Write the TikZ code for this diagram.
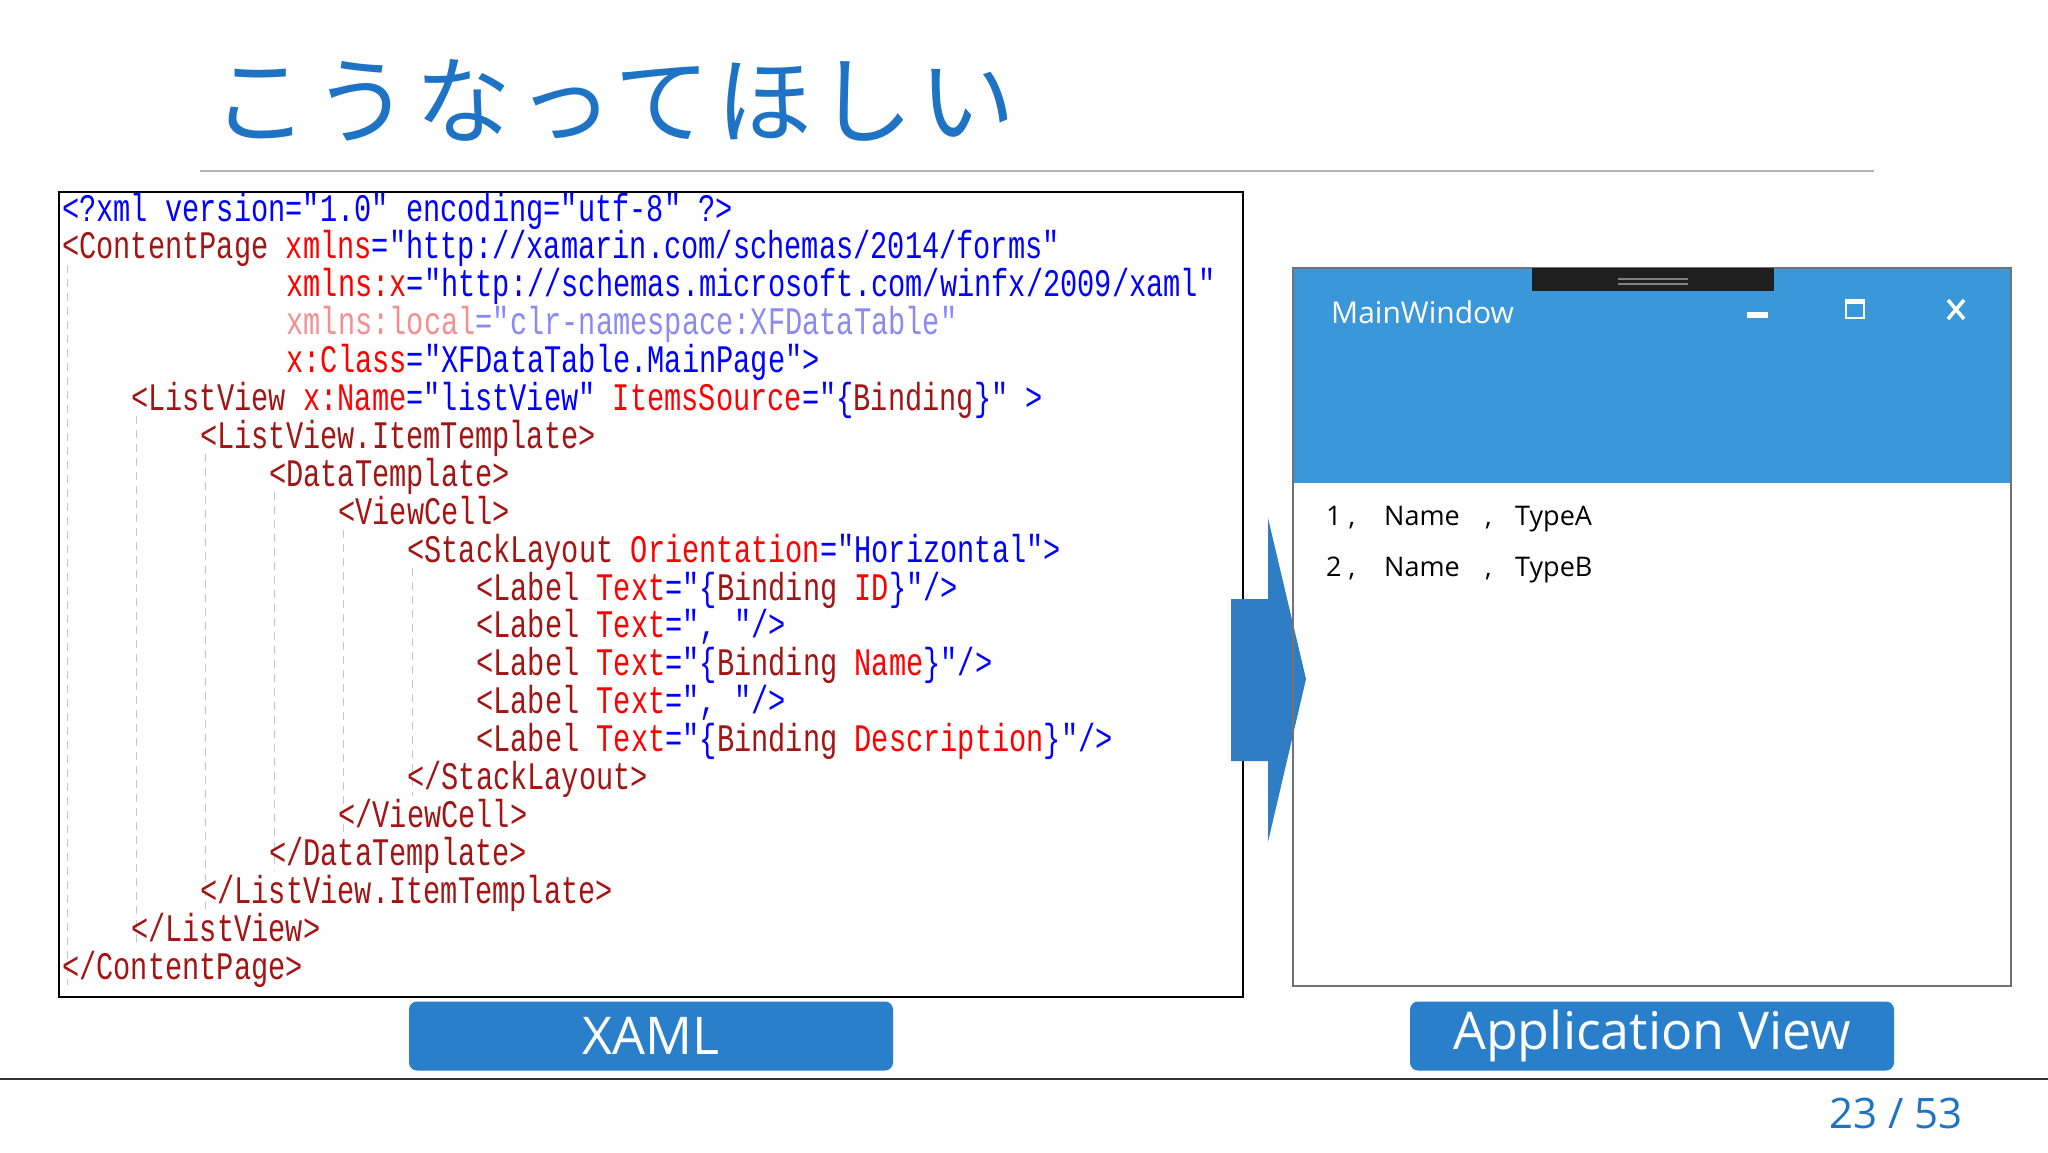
\documentclass[tikz,border=0pt]{standalone}
\usepackage{fontspec}
\setmainfont{Open Sans}
\newfontfamily\codefont[FakeStretch=0.735]{Liberation Mono}
\newfontfamily\jpfont[LetterSpace=6]{Noto Sans CJK JP}
\definecolor{tagc}{HTML}{A31515}
\definecolor{attc}{HTML}{FF0000}
\definecolor{valc}{HTML}{0000FF}
\definecolor{fadeA}{HTML}{F59090}
\definecolor{fadeV}{HTML}{8A8AF0}
\definecolor{ttl}{HTML}{1F73C4}
\definecolor{btn}{HTML}{2A7FCB}
\definecolor{win}{HTML}{3A97D9}
\definecolor{arr}{HTML}{2E7DC5}
\newcommand\xT[1]{\textcolor{tagc}{#1}}
\newcommand\xA[1]{\textcolor{attc}{#1}}
\newcommand\xV[1]{\textcolor{valc}{#1}}
\begin{document}
\begin{tikzpicture}[x=1pt,y=-1pt,
  code/.style={anchor=base west,inner sep=0pt,font=\codefont\fontsize{39}{39}\selectfont},
  btnbox/.style={fill=btn,rounded corners=8pt,text=white,font=\fontsize{52}{52}\selectfont,minimum width=484pt,minimum height=69pt,inner sep=0pt},
  row/.style={anchor=base west,inner sep=0pt,font=\fontsize{27}{27}\selectfont}]
\useasboundingbox (0,0) rectangle (2048,1152);
\fill[white] (0,0) rectangle (2048,1152);
% title
\node[anchor=base west,inner sep=0pt,text=ttl,font=\jpfont\fontsize{96}{96}\selectfont] (title) at (212,136) {こうなってほしい};
\draw[gray!60,line width=1.5pt] (200,171) -- (1874,171);
% code box
\draw[black,line width=1.3pt] (59,192) rectangle (1243,997);
\def\cw{17.25}
\foreach \k/\s/\e in {0/2/20,1/6/19,2/7/18,3/8/17,4/9/16,5/10/15}{
  \draw[gray!45,line width=1pt,dash pattern=on 8pt off 6pt]
    ({67+\k*4*\cw},{208+37.9*\s-19}) -- ({67+\k*4*\cw},{208+37.9*\e+19});
}
\node[code] (l0) at ({62+0*\cw},221) {\xV{<?xml version="1.0" encoding="utf-8" ?>}};
\node[code] (l1) at ({62+0*\cw},{221+37.9*1}) {\xT{<ContentPage} \xA{xmlns}\xV{="http://xamarin.com/schemas/2014/forms"}};
\node[code] (l2) at ({62+13*\cw},{221+37.9*2}) {\xA{xmlns:x}\xV{="http://schemas.microsoft.com/winfx/2009/xaml"}};
\node[code] (l3) at ({62+13*\cw},{221+37.9*3}) {\textcolor{fadeA}{xmlns:local}\textcolor{fadeV}{="clr-namespace:XFDataTable"}};
\node[code] (l4) at ({62+13*\cw},{221+37.9*4}) {\xA{x:Class}\xV{="XFDataTable.MainPage">}};
\node[code] (l5) at ({62+4*\cw},{221+37.9*5}) {\xT{<ListView} \xA{x:Name}\xV{="listView"} \xA{ItemsSource}\xV{="\{}\xT{Binding}\xV{\}" >}};
\node[code] (l6) at ({62+8*\cw},{221+37.9*6}) {\xT{<ListView.ItemTemplate>}};
\node[code] (l7) at ({62+12*\cw},{221+37.9*7}) {\xT{<DataTemplate>}};
\node[code] (l8) at ({62+16*\cw},{221+37.9*8}) {\xT{<ViewCell>}};
\node[code] (l9) at ({62+20*\cw},{221+37.9*9}) {\xT{<StackLayout} \xA{Orientation}\xV{="Horizontal">}};
\node[code] (l10) at ({62+24*\cw},{221+37.9*10}) {\xT{<Label} \xA{Text}\xV{="\{}\xT{Binding} \xA{ID}\xV{\}"/>}};
\node[code] (l11) at ({62+24*\cw},{221+37.9*11}) {\xT{<Label} \xA{Text}\xV{=", "/>}};
\node[code] (l12) at ({62+24*\cw},{221+37.9*12}) {\xT{<Label} \xA{Text}\xV{="\{}\xT{Binding} \xA{Name}\xV{\}"/>}};
\node[code] (l13) at ({62+24*\cw},{221+37.9*13}) {\xT{<Label} \xA{Text}\xV{=", "/>}};
\node[code] (l14) at ({62+24*\cw},{221+37.9*14}) {\xT{<Label} \xA{Text}\xV{="\{}\xT{Binding} \xA{Description}\xV{\}"/>}};
\node[code] (l15) at ({62+20*\cw},{221+37.9*15}) {\xT{</StackLayout>}};
\node[code] (l16) at ({62+16*\cw},{221+37.9*16}) {\xT{</ViewCell>}};
\node[code] (l17) at ({62+12*\cw},{221+37.9*17}) {\xT{</DataTemplate>}};
\node[code] (l18) at ({62+8*\cw},{221+37.9*18}) {\xT{</ListView.ItemTemplate>}};
\node[code] (l19) at ({62+4*\cw},{221+37.9*19}) {\xT{</ListView>}};
\node[code] (l20) at ({62+0*\cw},{221+37.9*20}) {\xT{</ContentPage>}};
% arrow
\fill[arr] (1231,599) -- (1268,599) -- (1268,518) -- (1306,679) -- (1268,842) -- (1268,761) -- (1231,761) -- cycle;
% window
\fill[win] (1293,268) rectangle (2011,483);
\draw[black!55,line width=2pt] (1293,268) rectangle (2011,986);
\fill[black!88] (1532,268) rectangle (1774,291);
\draw[gray,line width=1.5pt] (1618,279) -- (1688,279) (1618,284) -- (1688,284);
\node[anchor=base west,inner sep=0pt,text=white,font=\fontsize{30}{30}\selectfont] (wt) at (1331,323) {MainWindow};
\fill[white] (1747,312) rectangle (1768,318);
\draw[white,line width=2pt] (1846,300) rectangle (1864,318);
\draw[white,line width=5pt] (1846,301) -- (1864,301);
\draw[white,line width=3.5pt] (1948,300) -- (1964,319) (1964,300) -- (1948,319);
\node[row] (r1a) at (1326,525) {1 ,};
\node[row] (r1b) at (1384,525) {Name};
\node[row] (r1c) at (1485,525) {,};
\node[row] (r1d) at (1515,525) {TypeA};
\node[row] (r2a) at (1326,576) {2 ,};
\node[row] (r2b) at (1384,576) {Name};
\node[row] (r2c) at (1485,576) {,};
\node[row] (r2d) at (1515,576) {TypeB};
% buttons
\node[btnbox] (xaml) at (651,1036) {XAML};
\node[btnbox] (appv) at (1652,1036) {Application View};
% footer
\draw[black!80,line width=1.5pt] (0,1079) -- (2048,1079);
\node[anchor=base east,inner sep=0pt,text=ttl,font=\fontsize{42}{42}\selectfont] (pg) at (1963,1128) {23 / 53};
\end{tikzpicture}
\end{document}
